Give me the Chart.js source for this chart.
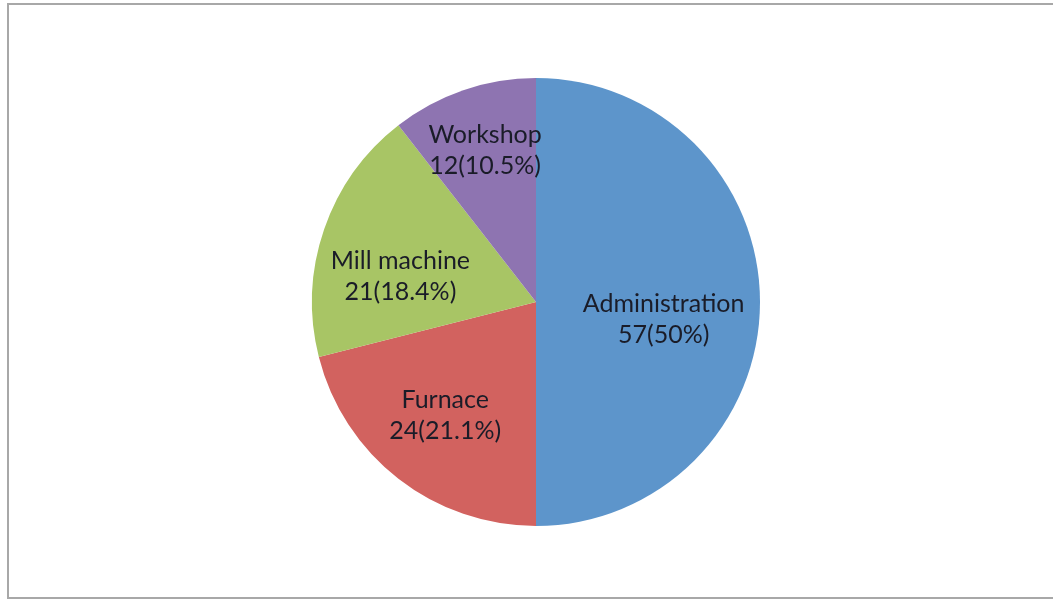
<!DOCTYPE html>
<html>
<head>
<meta charset="utf-8">
<script src="https://cdn.jsdelivr.net/npm/chart.js@4/dist/chart.umd.min.js"></script>
<style>
  html, body { margin: 0; padding: 0; background: #fff; overflow: hidden; }
  #pieChart { display: block; }
</style>
</head>
<body>
<canvas id="pieChart" width="1053" height="600"></canvas>
<script>
// Departments, clockwise from 12 o'clock
const departments = ['Administration', 'Furnace', 'Mill machine', 'Workshop'];
const counts = [57, 24, 21, 12];
const sliceColors = ['#5d95cb', '#d2625f', '#a8c565', '#8e74b1'];

// Grey frame: top, left and bottom edges (right edge runs off the page)
const frame = {
    id: 'frame',
    beforeDraw(chart) {
        const ctx = chart.ctx;
        ctx.save();
        ctx.strokeStyle = '#a8a8a8';
        ctx.lineWidth = 2;
        ctx.beginPath();
        ctx.moveTo(chart.width + 2, 4);
        ctx.lineTo(8, 4);
        ctx.lineTo(8, 598);
        ctx.lineTo(chart.width + 2, 598);
        ctx.stroke();
        ctx.restore();
    }
};

// Draws "Name" and "count(pct%)" inside each slice
const sliceLabels = {
    id: 'sliceLabels',
    afterDatasetsDraw(chart, args, opts) {
        const ctx = chart.ctx;
        const meta = chart.getDatasetMeta(0);
        const total = counts.reduce((a, b) => a + b, 0);
        ctx.save();
        ctx.font = opts.font;
        ctx.fillStyle = opts.color;
        ctx.textAlign = 'center';
        ctx.textBaseline = 'middle';
        meta.data.forEach((arc, i) => {
            const p = arc.getProps(['x', 'y', 'startAngle', 'endAngle', 'outerRadius'], true);
            const mid = (p.startAngle + p.endAngle) / 2;
            const place = opts.place[i];
            const r = p.outerRadius * place.r;
            const cx = p.x + Math.cos(mid) * r;
            const cy = p.y + Math.sin(mid) * r + place.dy;
            const pct = Math.round(counts[i] / total * 1000) / 10;
            ctx.fillText(departments[i], cx, cy - opts.lineHeight / 2);
            ctx.fillText(counts[i] + '(' + pct + '%)', cx, cy + opts.lineHeight / 2);
        });
        ctx.restore();
    }
};

const ctx = document.getElementById('pieChart').getContext('2d');
new Chart(ctx, {
    type: 'pie',
    data: {
        labels: departments,
        datasets: [{
            data: counts,
            backgroundColor: sliceColors,
            borderWidth: 0
        }]
    },
    options: {
        responsive: false,
        animation: false,
        layout: {
            padding: { top: 78, bottom: 74, left: 312, right: 293 }
        },
        plugins: {
            legend: { display: false },
            tooltip: { enabled: false },
            sliceLabels: {
                font: '25px Lato',
                color: '#1a1c28',
                lineHeight: 31,
                place: [
                    { r: 0.57, dy: 17 },
                    { r: 0.66, dy: -3 },
                    { r: 0.64, dy: 21 },
                    { r: 0.70, dy: -3 }
                ]
            }
        }
    },
    plugins: [frame, sliceLabels]
});
</script>
</body>
</html>
